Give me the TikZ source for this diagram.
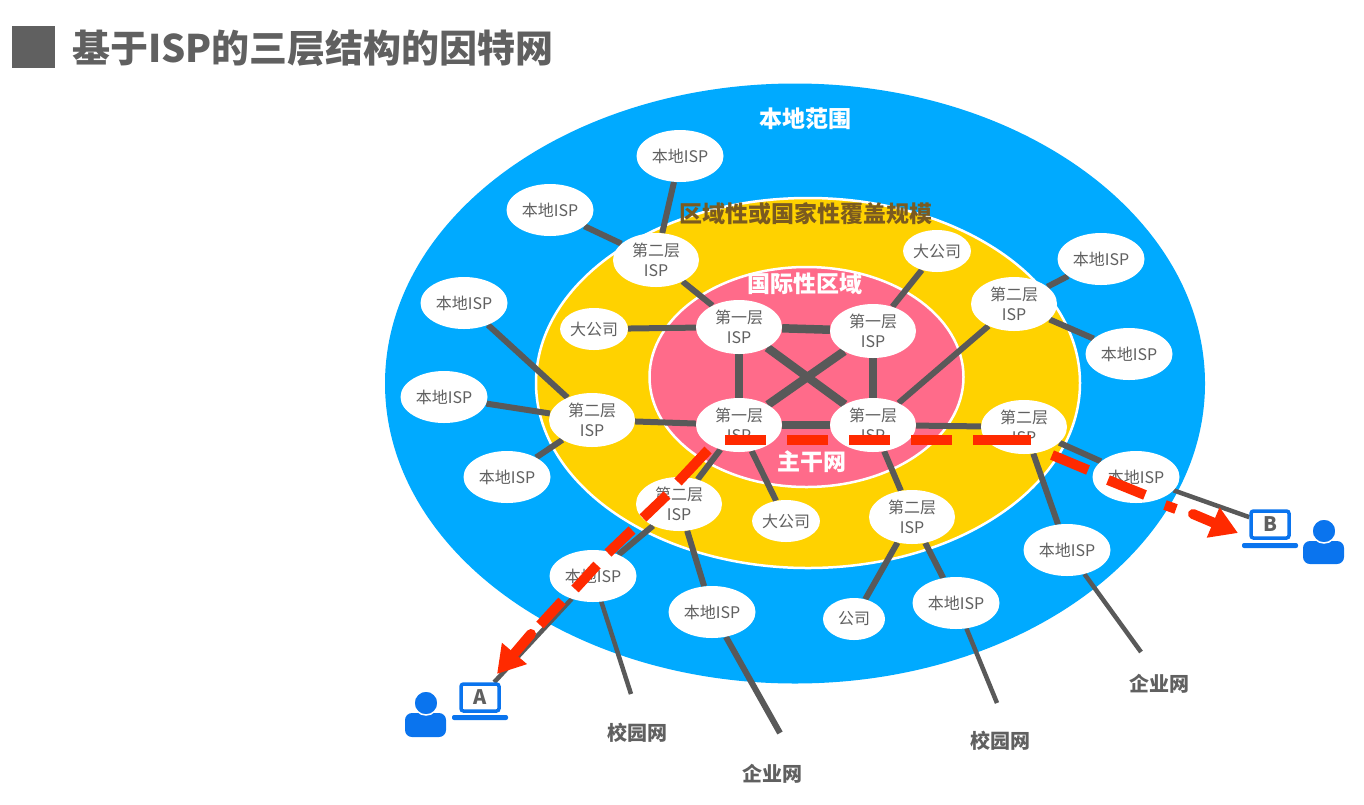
\documentclass[tikz,border=0pt]{standalone}
\usepackage{fontspec}
\setmainfont{Noto Sans CJK SC}
\usetikzlibrary{arrows.meta,shapes.geometric}
\pgfdeclarelayer{rings}\pgfdeclarelayer{links}
\pgfsetlayers{rings,links,main}
\definecolor{linkgray}{HTML}{595959}
\definecolor{txtgray}{HTML}{606060}
\definecolor{skyring}{HTML}{00AAFF}
\definecolor{goldring}{HTML}{FFD200}
\definecolor{pinkring}{HTML}{FF6B8A}
\definecolor{routered}{HTML}{FF2A00}
\definecolor{userblue}{HTML}{0A74EE}
\definecolor{regionbrown}{HTML}{7A5A20}
\tikzset{
 isp/.style={shape=ellipse,fill=white,inner sep=0pt,minimum width=86pt,minimum height=54pt,text=txtgray,font=\fontsize{16}{20}\selectfont,align=center},
 loc/.style={isp,minimum width=87pt,minimum height=52pt},
 corp/.style={isp,minimum width=62pt,minimum height=42pt},
 tierone/.style={isp},
 lk/.style={draw=linkgray,line width=6pt},
 lkthick/.style={draw=linkgray,line width=8.5pt},
 lkthin/.style={draw=linkgray,line width=4.5pt},
 rd/.style={draw=routered,line width=10pt},
 rdhead/.style={draw=routered,line width=10pt,line cap=round,-{Triangle[length=27pt,width=31pt]}},
 zone/.style={font=\fontsize{23}{26}\selectfont\bfseries,text=white},
 edgelabel/.style={font=\fontsize{20}{24}\selectfont\bfseries,text=txtgray},
 screen/.style={draw=userblue,fill=white,line width=3.5pt,rounded corners=2.5pt,inner sep=0pt,text=txtgray,font=\fontsize{20}{24}\selectfont\bfseries},
}
\begin{document}
\begin{tikzpicture}[x=1pt,y=-1pt]
\useasboundingbox (0,0) rectangle (1364,804);
% title
\fill[fill=txtgray] (12,26) rectangle (55,68);
\node[anchor=west,inner sep=0pt,text=txtgray,font=\fontsize{38}{44}\selectfont\bfseries] (title) at (72,48) {基于ISP的三层结构的因特网};
% rings
\begin{pgfonlayer}{rings}
\fill[skyring] (795,383.5) ellipse [x radius=410,y radius=300];
\filldraw[fill=goldring,draw=white,line width=2.5pt] (808,383) ellipse [x radius=272,y radius=185];
\filldraw[fill=pinkring,draw=white,line width=2.5pt] (806.5,377) ellipse [x radius=157,y radius=110];
\end{pgfonlayer}
\node[zone] (zlocal) at (805,119) {本地范围};
\node[zone,text=regionbrown] (zregion) at (806,214) {区域性或国家性覆盖规模};
\node[zone] (zintl) at (805,284) {国际性区域};
\node[zone] (zback) at (812,462) {主干网};
% tier one
\node[tierone] (t1a) at (739,327) {第一层\\ISP};
\node[tierone] (t1b) at (873,331) {第一层\\ISP};
\node[tierone] (t1c) at (739,425) {第一层\\ISP};
\node[tierone] (t1d) at (873,425) {第一层\\ISP};
% tier two
\node[isp] (t2a) at (656,260) {第二层\\ISP};
\node[isp] (t2b) at (1014,304) {第二层\\ISP};
\node[isp] (t2c) at (592,420) {第二层\\ISP};
\node[isp] (t2d) at (1024,427) {第二层\\ISP};
\node[isp] (t2e) at (679,504) {第二层\\ISP};
\node[isp] (t2f) at (912,517) {第二层\\ISP};
% local
\node[loc] (la) at (680,156) {本地ISP};
\node[loc] (lb) at (550,210) {本地ISP};
\node[loc] (lc) at (464,303) {本地ISP};
\node[loc] (ld) at (444,397) {本地ISP};
\node[loc] (le) at (507,477) {本地ISP};
\node[loc] (lf) at (1101,259) {本地ISP};
\node[loc] (lg) at (1129,354) {本地ISP};
\node[loc] (lh) at (1136,477) {本地ISP};
\node[loc] (li) at (1067,550) {本地ISP};
\node[loc] (lj) at (956,603) {本地ISP};
\node[loc] (lk) at (712,612) {本地ISP};
\node[loc] (ll) at (593,576) {本地ISP};
% corporations
\node[corp] (ca) at (594,329) {大公司};
\node[corp] (cb) at (937,251) {大公司};
\node[corp] (cc) at (786,521) {大公司};
\node[corp] (cd) at (854,619) {公司};
% bottom labels
\node[edgelabel] (n1) at (637,733) {校园网};
\node[edgelabel] (n2) at (772,774) {企业网};
\node[edgelabel] (n3) at (1000,741) {校园网};
\node[edgelabel] (n4) at (1159,684) {企业网};
\coordinate (e1) at (631,694);
\coordinate (e2) at (780,733);
\coordinate (e3) at (997,703);
\coordinate (e4) at (1141,652);
% laptops
\node[screen,minimum width=38pt,minimum height=27pt] (lapA) at (480,697.5) {A};
\fill[userblue,rounded corners=2pt] (452,715) rectangle (508,720);
\node[screen,minimum width=38pt,minimum height=27pt] (lapB) at (1270,524.5) {B};
\fill[userblue,rounded corners=2pt] (1242,543) rectangle (1298,548);
% users
\fill[userblue,rounded corners=7pt] (405,737) -- (405,713) -- (446,713) -- (446,737) -- cycle;
\filldraw[fill=userblue,draw=white,line width=1.5pt] (426,703) circle [radius=12];
\fill[userblue,rounded corners=7pt] (1303,564) -- (1303,541) -- (1344,541) -- (1344,564) -- cycle;
\filldraw[fill=userblue,draw=white,line width=1.5pt] (1324,531) circle [radius=12];
% links
\begin{pgfonlayer}{links}
\foreach \a/\b in {t1a/t1b,t1a/t1c,t1a/t1d,t1b/t1c,t1b/t1d,t1c/t1d}
  \draw[lkthick] (\a) -- (\b);
\foreach \a/\b in {la/t2a,lb/t2a,t2a/t1a,ca/t1a,cb/t1b,t2b/t1d,lf/t2b,lg/t2b,lc/t2c,ld/t2c,le/t2c,t2c/t1c,t2d/t1d,t1c/t2e,t1c/cc,t1d/t2f,t2e/ll,t2e/lk,t2f/cd,t2f/lj,t2d/li,t2d/lh}
  \draw[lk] (\a) -- (\b);
\draw[lkthin] (ll) -- (lapA);
\draw[lkthin] (lh) -- (lapB);
\draw[lkthin] (ll) -- (e1);
\draw[lk] (lk) -- (e2);
\draw[lkthin] (lj) -- (e3);
\draw[lkthin] (li) -- (e4);
\end{pgfonlayer}
% red route
\foreach \i/\x/\y/\u/\v in {
 a/725/440/766/440,b/787/440/828/440,c/849/440/890/440,d/911/440/952/440,e/973/440/1031/440,
 f/1052/455/1088/470,g/1108/480/1145/495,h/1165/505/1176/509,
 i/708/450/678/482,j/667/495/643/518,k/632/530/608/553,l/597/565/575/589,m/562/601/540/625}{
  \coordinate (rs\i) at (\x,\y);
  \coordinate (re\i) at (\u,\v);
  \draw[rd] (rs\i) -- (re\i);
}
\coordinate (rheadBs) at (1193,514);
\coordinate (rheadBe) at (1238,533);
\coordinate (rheadAs) at (531,634);
\coordinate (rheadAe) at (497,674);
\draw[rdhead] (rheadBs) -- (rheadBe);
\draw[rdhead] (rheadAs) -- (rheadAe);
\end{tikzpicture}
\end{document}
